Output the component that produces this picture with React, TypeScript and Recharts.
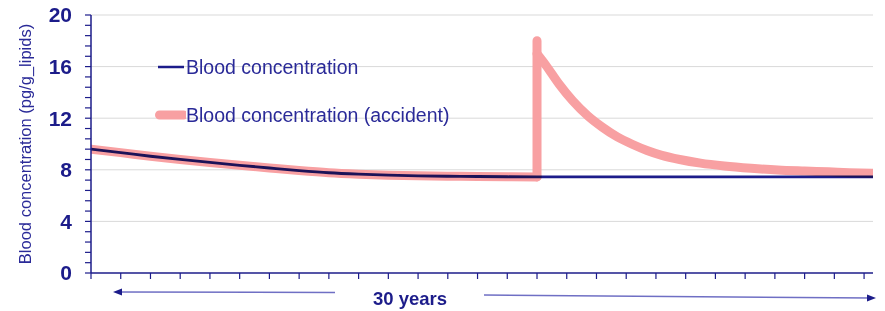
import { LineChart, Line, XAxis, YAxis, CartesianGrid, Legend } from "recharts";

// x is measured in axis tick steps (26 steps span the 30 years)
const baseX = [0, 1, 2, 3, 4, 5, 6, 7, 8, 9, 10, 11, 12, 13, 14, 15, 18, 21, 24, 26.3];
const baseY = [9.6, 9.33, 9.05, 8.8, 8.57, 8.35, 8.14, 7.94, 7.77, 7.66, 7.58, 7.53, 7.5, 7.48, 7.46, 7.45, 7.45, 7.45, 7.45, 7.45];

const spikeX = [15, 15, 15];
const spikeY = [7.45, 18, 17];

const decayX = [15, 15.3, 15.74, 16.2, 16.7, 17.2, 17.7, 18.2, 18.7, 19.2, 19.8, 20.5, 21.3, 22.2, 23.1, 24, 24.8, 25.5, 26.3];
const decayY = [17, 16.1, 14.65, 13.35, 12.2, 11.3, 10.55, 9.98, 9.5, 9.12, 8.8, 8.52, 8.3, 8.12, 7.98, 7.9, 7.84, 7.78, 7.73];

const xTicks = Array.from({ length: 27 }, (_, i) => i);
const yTicks = Array.from({ length: 26 }, (_, i) => Math.round(i * 0.8 * 10) / 10);
const yGrid = [4, 8, 12, 16, 20];

const NAVY = "#1c1c8a";
const TEXT = "#2a2a98";
const PINK = "#f8a0a2";
const FONT = "'Liberation Sans', Arial, sans-serif";

const blood = baseX.map((x, i) => ({ x, y: baseY[i] }));
const accidentBefore = baseX.filter((x) => x <= 15).map((x, i) => ({ x, y: baseY[i] }));
const accidentSpike = spikeX.map((x, i) => ({ x, y: spikeY[i] }));
const accidentAfter = decayX.map((x, i) => ({ x, y: decayY[i] }));

const YLabel = ({ viewBox }: any) => {
  const cy = viewBox.y + viewBox.height / 2;
  return (
    <text
      x={25}
      y={cy}
      transform={`rotate(-90 25 ${cy})`}
      textAnchor="middle"
      dominantBaseline="central"
      fill={TEXT}
      fontSize={16.5}
      fontFamily={FONT}
    >
      Blood concentration (pg/g_lipids)
    </text>
  );
};

const XLabel = ({ viewBox }: any) => {
  const { x, y, width } = viewBox;
  const c = "#6f6fc4";
  return (
    <g>
      <line x1={x + 26} y1={y + 19} x2={x + 244} y2={y + 19.5} stroke={c} strokeWidth={1.5} />
      <polygon points={`${x + 22},${y + 19} ${x + 31},${y + 15.5} ${x + 31},${y + 22.5}`} fill={NAVY} />
      <line x1={x + 393} y1={y + 22} x2={x + width - 2} y2={y + 25} stroke={c} strokeWidth={1.5} />
      <polygon
        points={`${x + width + 3},${y + 25} ${x + width - 6},${y + 21.5} ${x + width - 6},${y + 28.5}`}
        fill={NAVY}
      />
      <text
        x={x + 319}
        y={y + 32}
        textAnchor="middle"
        fill={NAVY}
        fontSize={18.5}
        fontWeight="bold"
        fontFamily={FONT}
      >
        30 years
      </text>
    </g>
  );
};

const LegendBox = () => {
  const items = [
    { label: "Blood concentration", color: NAVY, width: 2.5 },
    { label: "Blood concentration (accident)", color: PINK, width: 9 },
  ];
  return (
    <div style={{ fontFamily: FONT }}>
      {items.map((it) => (
        <div key={it.label} style={{ display: "flex", alignItems: "center", height: 48 }}>
          <svg width={31} height={14}>
            <line
              x1={it.width > 3 ? 4.5 : 3}
              y1={7}
              x2={29}
              y2={7}
              stroke={it.color}
              strokeWidth={it.width}
              strokeLinecap={it.width > 3 ? "round" : "butt"}
            />
          </svg>
          <span style={{ color: TEXT, fontSize: 19.5, whiteSpace: "nowrap" }}>{it.label}</span>
        </div>
      ))}
    </div>
  );
};

const pinkProps = {
  dataKey: "y",
  stroke: PINK,
  strokeWidth: 9,
  strokeLinecap: "round" as const,
  strokeLinejoin: "round" as const,
  dot: false,
  activeDot: false,
  isAnimationActive: false,
  legendType: "none" as const,
};

export default function App() {
  return (
    <div style={{ position: "absolute", left: 0, top: 0, background: "#fff" }}>
      <LineChart width={885} height={311} margin={{ top: 15, right: 12, bottom: 0, left: 31 }}>
        <CartesianGrid horizontal vertical={false} horizontalValues={yGrid} stroke="#d9d9d9" strokeWidth={1} />
        <XAxis
          type="number"
          dataKey="x"
          domain={[0, 26.3]}
          ticks={xTicks}
          allowDataOverflow
          height={38}
          tickFormatter={() => ""}
          tickSize={6}
          axisLine={{ stroke: NAVY, strokeWidth: 1.5 }}
          tickLine={{ stroke: NAVY, strokeWidth: 1.2 }}
          label={<XLabel />}
        />
        <YAxis
          type="number"
          domain={[0, 20]}
          ticks={yTicks}
          interval={0}
          width={60}
          tickSize={6}
          tickMargin={13}
          tickFormatter={(v: number) => (Math.abs(v / 4 - Math.round(v / 4)) < 1e-6 ? String(Math.round(v)) : "")}
          tick={{ fill: NAVY, fontSize: 21, fontWeight: "bold", fontFamily: FONT }}
          axisLine={{ stroke: NAVY, strokeWidth: 1.5 }}
          tickLine={{ stroke: NAVY, strokeWidth: 1.2 }}
          label={<YLabel />}
        />
        <Legend
          layout="vertical"
          align="center"
          verticalAlign="middle"
          content={<LegendBox />}
          wrapperStyle={{ top: 43, left: 155, width: "auto", height: "auto" }}
        />
        <Line {...pinkProps} data={accidentBefore} type="monotone" name="accident-before" />
        <Line {...pinkProps} data={accidentSpike} type="linear" name="accident-spike" />
        <Line {...pinkProps} data={accidentAfter} type="monotone" name="Blood concentration (accident)" />
        <Line
          data={blood}
          dataKey="y"
          type="monotone"
          stroke={NAVY}
          strokeWidth={2.8}
          dot={false}
          isAnimationActive={false}
          style={{ mixBlendMode: "multiply" }}
          name="Blood concentration"
        />
      </LineChart>
    </div>
  );
}
